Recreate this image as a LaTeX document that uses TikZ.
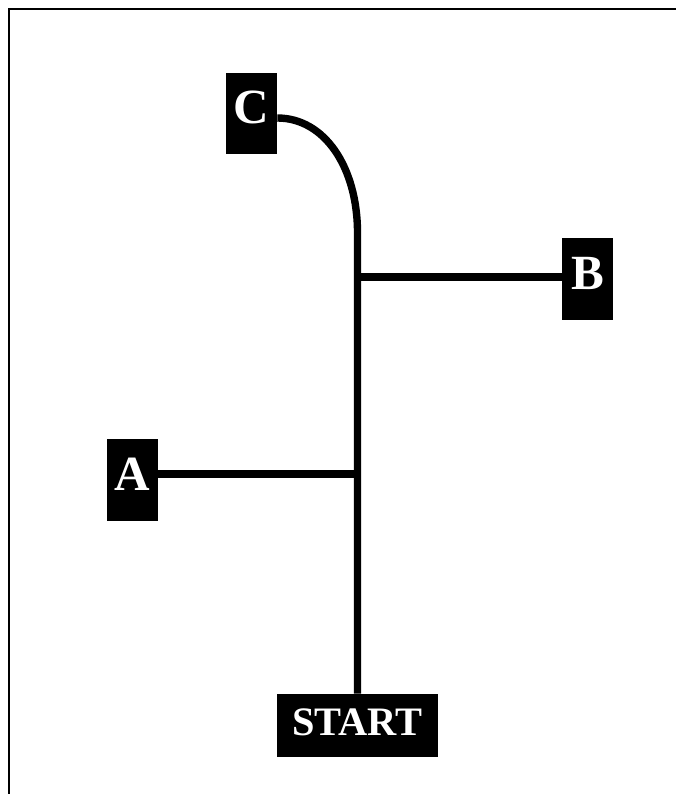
\documentclass[tikz,border=0pt]{standalone}
\usepackage{fontspec}
\setmainfont{Liberation Serif}
\usetikzlibrary{positioning}

\begin{document}
\begin{tikzpicture}[
  x=0.02cm, y=-0.02cm,
  tag/.style={fill=black, text=white, inner sep=0pt, font=\bfseries\fontsize{28}{30}\selectfont,
    minimum width=1.02cm, minimum height=1.63cm, text depth=0.24cm},
  track/.style={line width=4.2pt},
  frame/.style={line width=1.1pt}
]
\useasboundingbox (0,0) rectangle (676,794);
\draw[frame] (9,794) -- (9,9) -- (676,9);

\node[tag, minimum width=3.22cm, minimum height=1.26cm, text depth=0.12cm,
  font=\bfseries\fontsize{23}{25}\selectfont] (start) at (357.5,725.5) {START};
\node[tag] (c) at (251.5,113.5) {C};
\node[tag] (b) at (587.5,279) {B};
\node[tag] (a) at (132.5,480) {A};

\coordinate (bend) at (start.north |- 0,233);
\coordinate (jb) at (start.north |- 0,277);
\coordinate (ja) at (start.north |- 0,474);

\draw[track] (start.north) -- (bend) .. controls +(0,-66) and +(47,0) .. ([yshift=-0.09cm]c.east);
\draw[track] (jb) -- (b.west |- jb);
\draw[track] (a.east |- ja) -- (ja);
\end{tikzpicture}
\end{document}
